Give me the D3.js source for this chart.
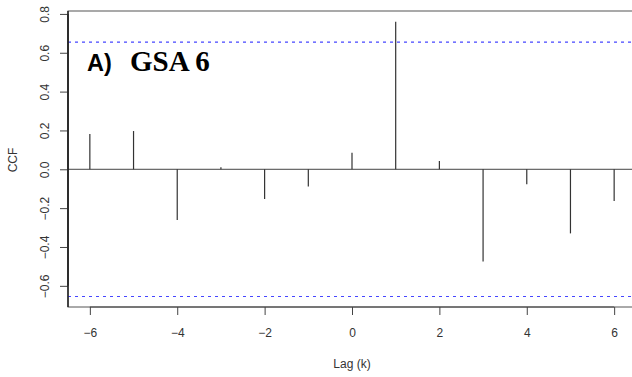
<!DOCTYPE html>
<html><head><meta charset="utf-8">
<script src="https://cdn.jsdelivr.net/npm/d3@7"></script>
<style>body{margin:0;background:#fff;} svg{display:block;}</style>
</head><body><svg id="c" width="632" height="377"></svg>
<script>
const lags = [-6,-5,-4,-3,-2,-1,0,1,2,3,4,5,6];
const ccf  = [0.182,0.197,-0.261,0.01,-0.153,-0.089,0.085,0.76,0.043,-0.475,-0.077,-0.33,-0.163];
const ciLimit = 0.655;
const xTicks = [-6,-4,-2,0,2,4,6];
const yTicks = [-0.6,-0.4,-0.2,0.0,0.2,0.4,0.6,0.8];
const panelLabel = "A)";
const panelTitle = "GSA 6";

const svg = d3.select("#c");
const x = d3.scaleLinear().domain([-6.5, 6.5]).range([68, 636]);
const y = d3.scaleLinear().domain([-0.709, 0.815]).range([307, 11]);
const font = "Liberation Sans, Arial, Helvetica, sans-serif";

// frame
svg.append("rect").attr("x", 68).attr("y", 11).attr("width", 636-68).attr("height", 307-11)
  .attr("fill","none").attr("stroke","#555").attr("stroke-width",1);

// zero line
svg.append("line").attr("x1",68).attr("x2",636).attr("y1",y(0)).attr("y2",y(0))
  .attr("stroke","#444").attr("stroke-width",1);

// CI lines
[ciLimit, -ciLimit].forEach(v=>{
  svg.append("line").attr("x1",68).attr("x2",636).attr("y1",y(v)).attr("y2",y(v))
    .attr("stroke","#4646ff").attr("stroke-width",1.2).attr("stroke-dasharray","3,4");
});

// spikes
svg.selectAll("line.spike").data(lags).enter().append("line").attr("class","spike")
  .attr("x1",d=>x(d)).attr("x2",d=>x(d))
  .attr("y1",y(0)).attr("y2",(d,i)=>y(ccf[i]))
  .attr("stroke","#333").attr("stroke-width",1.2);

// y axis
const ya = svg.append("g").attr("transform","translate(68,0)")
  .call(d3.axisLeft(y).tickValues(yTicks).tickSize(8).tickFormat(d3.format(".1f")));
ya.select(".domain").attr("stroke","#222").attr("d","M0,"+y(0.8)+"V"+y(-0.6)).attr("stroke-width",1.3);
ya.selectAll(".tick line").attr("stroke","#444");
ya.selectAll(".tick text").attr("font-family",font).attr("font-size",12).attr("fill","#333")
  .attr("transform","rotate(-90)").attr("x",0).attr("y",-23).attr("dy","0").attr("text-anchor","middle")
  .text(d=>d3.format(".1f")(d).replace("-","\u2212"));
ya.selectAll(".tick").each(function(d){
  const t=d3.select(this).select("text");
  t.attr("transform","translate(-19,0) rotate(-90)").attr("x",0).attr("y",0).attr("dy","0");
});
ya.select(".domain").attr("stroke","#222");

// x axis
const xa = svg.append("g").attr("transform","translate(0,307)")
  .call(d3.axisBottom(x).tickValues(xTicks).tickSize(8).tickFormat(d=>String(d).replace("-","\u2212")));
xa.select(".domain").attr("d","M"+x(-6)+",0H"+x(6)).attr("stroke","#444");
xa.selectAll(".tick line").attr("stroke","#444");
xa.selectAll(".tick text").attr("font-family",font).attr("font-size",12).attr("fill","#333").attr("y",21).attr("dy","0.71em");

// left axis line thick black
svg.append("line").attr("x1",68).attr("x2",68).attr("y1",11).attr("y2",307).attr("stroke","#222").attr("stroke-width",1.5);

// axis titles
svg.append("text").attr("x",x(0)).attr("y",368).attr("text-anchor","middle")
  .attr("font-family",font).attr("font-size",12).attr("fill","#333").text("Lag (k)");
svg.append("text").attr("transform","translate(17,160) rotate(-90)").attr("text-anchor","middle")
  .attr("font-family",font).attr("font-size",12).attr("fill","#333").text("CCF");

// panel title
svg.append("text").attr("x",87).attr("y",71).attr("font-family",font).attr("font-weight","bold")
  .attr("font-size",23.5).attr("fill","#000").text(panelLabel);
svg.append("text").attr("x",130).attr("y",71).attr("font-family","Liberation Serif, Times New Roman, serif").attr("font-weight","bold")
  .attr("font-size",29).attr("fill","#000").text(panelTitle);
</script></body></html>
